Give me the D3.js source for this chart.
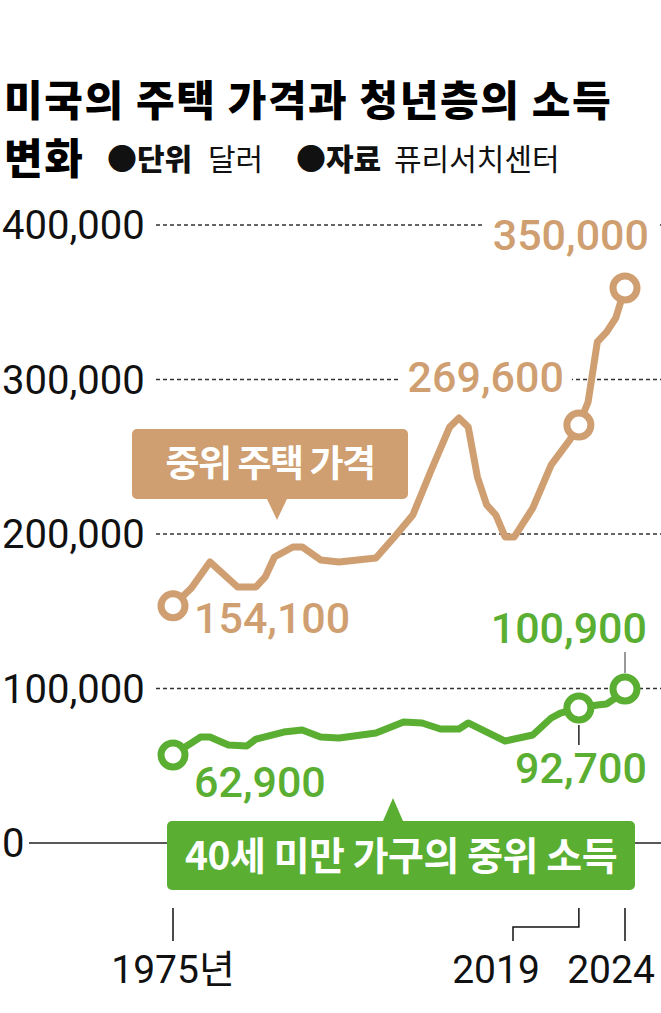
<!DOCTYPE html>
<html>
<head>
<meta charset="utf-8">
<script src="https://cdn.jsdelivr.net/npm/d3@7"></script>
<style>
  body { margin: 0; background: #fff; }
  svg { display: block; }
</style>
</head>
<body>
<div id="chart"></div>
<script>
// 중위 주택 가격 (달러)
var houseYears  = [1975,1977,1979,1982,1984,1985,1986,1988,1989,1991,1993,1997,1999,2001,2003,2005,2006,2007,2008,2009,2010,2011,2012,2014,2016,2018,2019,2020,2021,2022,2023,2024];
var houseValues = [153500,165000,181900,165700,165700,172200,185100,191600,191600,183200,181900,184500,198100,212300,241400,269300,275100,269300,236900,218800,212300,198100,198100,216800,244700,260800,270600,285400,324300,330700,339800,359200];

// 40세 미만 가구의 중위 소득 (달러)
var incomeYears  = [1975,1978,1979,1981,1983,1984,1987,1989,1991,1993,1997,2000,2002,2004,2006,2007,2011,2014,2016,2017,2019,2021,2022,2023,2024];
var incomeValues = [57000,68600,68600,63400,62800,67300,71800,73100,68600,68000,71200,78300,77700,73800,73800,77700,66000,69900,80900,84100,87400,89300,90000,93900,99700];

var yTicks = [0, 100000, 200000, 300000, 400000];
var xTicks = [1975, 2019, 2024];
var xTickLabels = ["1975년", "2019", "2024"];

var markedYears = [1975, 2019, 2024];
var houseNotes = ["154,100", "269,600", "350,000"];
var incomeNotes = ["62,900", "92,700", "100,900"];

var TAN = "#cf9f71", GREEN = "#5aae32";
var NUM = "Roboto, 'Noto Sans CJK KR', sans-serif";
var KR = "'Noto Sans CJK KR', sans-serif";

var W = 661, H = 1013;
var svg = d3.select("#chart").append("svg").attr("width", W).attr("height", H);

var x = d3.scaleLinear().domain([1975, 2024]).range([173, 625]);
var y = d3.scaleLinear().domain([0, 400000]).range([843, 225]);
var fmt = d3.format(",");

// title
svg.append("text").attr("x", 4).attr("y", 116)
    .style("font-family", KR).style("font-weight", 900).style("font-size", "42px")
    .style("letter-spacing", "1.6px")
    .text("미국의 주택 가격과 청년층의 소득");
svg.append("text").attr("x", 4).attr("y", 174)
    .style("font-family", KR).style("font-weight", 900).style("font-size", "42px")
    .style("letter-spacing", "1.6px")
    .text("변화");
var sub = svg.append("text").attr("y", 170).style("font-family", KR).style("font-size", "30px").style("fill", "#111");
sub.append("tspan").attr("x", 107).style("font-weight", 900).text("●단위");
sub.append("tspan").attr("x", 208).style("font-weight", 400).text("달러");
sub.append("tspan").attr("x", 296).style("font-weight", 900).text("●자료");
sub.append("tspan").attr("x", 394).style("font-weight", 400).text("퓨리서치센터");

// grid + y labels
var grid = svg.append("g");
yTicks.forEach(function (v) {
    grid.append("line")
        .attr("x1", v === 0 ? 29 : 156).attr("x2", W)
        .attr("y1", y(v)).attr("y2", y(v))
        .style("stroke", v === 0 ? "#222" : "#333")
        .style("stroke-width", 1.5)
        .style("stroke-dasharray", v === 0 ? null : "4,3");
    grid.append("text")
        .attr("x", 2).attr("y", y(v) + 14)
        .style("font-family", NUM).style("font-size", "40px").style("fill", "#111")
        .text(fmt(v));
});

// value labels with white knock-out
function note(txt, color, px, py, anchor) {
    var g = svg.append("g");
    var t = g.append("text").attr("x", px).attr("y", py)
        .attr("text-anchor", anchor)
        .style("font-family", NUM).style("font-weight", 500).style("font-size", "43px")
        .style("fill", color).text(txt);
    var b = t.node().getBBox();
    g.insert("rect", "text").attr("x", b.x - 8).attr("y", b.y + 4)
        .attr("width", b.width + 16).attr("height", b.height - 8).style("fill", "#fff");
}
var hv = function (yr) { return houseValues[houseYears.indexOf(yr)]; };
var iv = function (yr) { return incomeValues[incomeYears.indexOf(yr)]; };

note(houseNotes[0], TAN, x(1975) + 21, y(hv(1975)) + 27, "start");
note(houseNotes[1], TAN, x(2019) - 15, y(hv(2019)) - 33, "end");
note(houseNotes[2], TAN, x(2024) + 24, y(hv(2024)) - 38, "end");
note(incomeNotes[0], GREEN, x(1975) + 21, y(iv(1975)) + 42, "start");
note(incomeNotes[1], GREEN, x(2019) + 68, y(iv(2019)) + 75, "end");
note(incomeNotes[2], GREEN, x(2024) + 22, y(iv(2024)) - 46, "end");

// leader ticks for green labels
svg.append("line").attr("x1", x(2019)).attr("x2", x(2019))
    .attr("y1", y(iv(2019)) + 17).attr("y2", y(iv(2019)) + 37)
    .style("stroke", "#222").style("stroke-width", 1.5);
svg.append("line").attr("x1", x(2024)).attr("x2", x(2024))
    .attr("y1", y(iv(2024)) - 37).attr("y2", y(iv(2024)) - 16)
    .style("stroke", "#777").style("stroke-width", 1.5);

// lines
var line = d3.line().x(function (d) { return x(d[0]); }).y(function (d) { return y(d[1]); });
svg.append("path")
    .datum(d3.zip(houseYears, houseValues))
    .attr("d", line)
    .style("fill", "none").style("stroke", TAN).style("stroke-width", 7)
    .style("stroke-linejoin", "round");
svg.append("path")
    .datum(d3.zip(incomeYears, incomeValues))
    .attr("d", line)
    .style("fill", "none").style("stroke", GREEN).style("stroke-width", 7)
    .style("stroke-linejoin", "round");

// end markers
markedYears.forEach(function (yr) {
    svg.append("circle").attr("cx", x(yr)).attr("cy", y(hv(yr))).attr("r", 12)
        .style("fill", "#fff").style("stroke", TAN).style("stroke-width", 7);
    svg.append("circle").attr("cx", x(yr)).attr("cy", y(iv(yr))).attr("r", 12)
        .style("fill", "#fff").style("stroke", GREEN).style("stroke-width", 7);
});

// callouts
function callout(label, color, bx, by, bw, bh, tipX, tipUp, fs, ls) {
    var g = svg.append("g");
    g.append("rect").attr("x", bx).attr("y", by).attr("width", bw).attr("height", bh)
        .attr("rx", 5).style("fill", color);
    var ty = tipUp ? by : by + bh;
    var ay = tipUp ? by - 23 : by + bh + 21;
    g.append("path")
        .attr("d", "M" + (tipX - 10) + "," + ty + "L" + tipX + "," + ay + "L" + (tipX + 10) + "," + ty + "Z")
        .style("fill", color);
    g.append("text").attr("x", bx + bw / 2).attr("y", by + bh / 2 + fs * 0.36)
        .attr("text-anchor", "middle")
        .style("font-family", KR).style("font-weight", 700).style("font-size", fs + "px")
        .style("letter-spacing", ls + "px")
        .style("fill", "#fff").text(label);
}
callout("중위 주택 가격", TAN, 132, 429, 276, 70, 277, false, 37, -1.5);
callout("40세 미만 가구의 중위 소득", GREEN, 167, 821, 468, 69, 393, true, 39, -0.5);

// bottom year ticks
var ax = svg.append("g").style("stroke", "#111").style("stroke-width", 1.5).style("fill", "none");
ax.append("line").attr("x1", x(1975)).attr("x2", x(1975)).attr("y1", 908).attr("y2", 941);
ax.append("path").attr("d", "M" + x(2019) + ",908V927H513V941");
ax.append("line").attr("x1", x(2024)).attr("x2", x(2024)).attr("y1", 908).attr("y2", 941);

var labelX = [x(1975), 496, 611];
xTicks.forEach(function (yr, i) {
    svg.append("text").attr("x", labelX[i]).attr("y", 983)
        .attr("text-anchor", "middle")
        .style("font-family", NUM).style("font-size", "39px").style("fill", "#111")
        .text(xTickLabels[i]);
});
</script>
</body>
</html>
